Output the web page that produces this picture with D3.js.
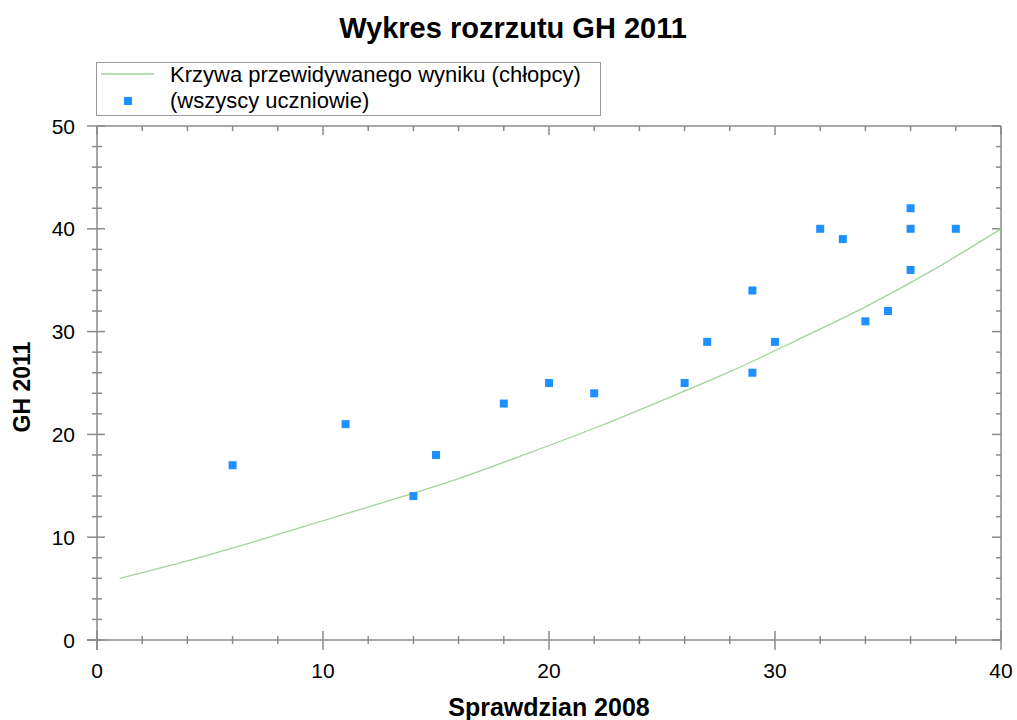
<!DOCTYPE html>
<html>
<head>
<meta charset="utf-8">
<script src="https://cdn.jsdelivr.net/npm/d3@7"></script>
<style>
  body { margin: 0; background: #fff; }
  svg text { font-family: "Liberation Sans", Arial, sans-serif; fill: #000; }
</style>
</head>
<body>
<div id="vis"></div>
<script>
// scores
var sprawdzian = [6, 11, 14, 15, 18, 20, 22, 26, 27, 29, 29, 30, 32, 33, 34, 35, 36, 36, 36, 38];
var gh2011     = [17, 21, 14, 18, 23, 25, 24, 25, 29, 34, 26, 29, 40, 39, 31, 32, 42, 40, 36, 40];

// predicted curve (boys)
var curveX = [1, 4, 7, 10, 13, 16, 19, 22, 25, 28, 31, 34, 37, 40];
var curveY = [6.0, 7.7, 9.6, 11.6, 13.6, 15.7, 18.1, 20.6, 23.3, 26.1, 29.2, 32.4, 36.0, 40.0];

var xTicks = [0, 10, 20, 30, 40];
var yTicks = [0, 10, 20, 30, 40, 50];

var width = 1017, height = 720;
var margin = {top: 126, right: 16, bottom: 80, left: 97};

var svg = d3.select('#vis').append('svg')
  .attr('width', width)
  .attr('height', height);

var x = d3.scaleLinear().domain([0, 40]).range([margin.left, width - margin.right]);
var y = d3.scaleLinear().domain([0, 50]).range([height - margin.bottom, margin.top]);

var axisColor = '#8a8a8a';
var minorX = d3.range(0, 41, 2), minorY = d3.range(0, 51, 2);

// frame: top and right lines with inward ticks
var frame = svg.append('g').attr('stroke', axisColor).attr('stroke-width', 1.5);
frame.append('line').attr('x1', x(0)).attr('x2', x(40)).attr('y1', y(50)).attr('y2', y(50));
frame.append('line').attr('x1', x(40)).attr('x2', x(40)).attr('y1', y(0)).attr('y2', y(50));
frame.selectAll('.tt').data(minorX).enter().append('line')
  .attr('x1', d => x(d)).attr('x2', d => x(d))
  .attr('y1', y(50)).attr('y2', d => y(50) + (d % 10 === 0 ? 9 : 5));
frame.selectAll('.rt').data(minorY).enter().append('line')
  .attr('y1', d => y(d)).attr('y2', d => y(d))
  .attr('x1', x(40)).attr('x2', d => x(40) - (d % 10 === 0 ? 9 : 5));

// bottom axis, ticks crossing the line
var gx = svg.append('g').attr('transform', 'translate(0,' + y(0) + ')');
gx.selectAll('.mt').data(minorX).enter().append('line')
  .attr('stroke', axisColor).attr('stroke-width', 1.5)
  .attr('x1', d => x(d)).attr('x2', d => x(d))
  .attr('y1', d => d % 10 === 0 ? -9 : -4).attr('y2', d => d % 10 === 0 ? 10 : 4);
gx.append('line').attr('stroke', axisColor).attr('stroke-width', 1.5)
  .attr('x1', x(0) - 10).attr('x2', x(40));
gx.selectAll('.lbl').data(xTicks).enter().append('text')
  .attr('x', d => x(d)).attr('y', 38)
  .attr('text-anchor', 'middle')
  .style('font-size', '21px')
  .text(d => d);

// left axis
var gy = svg.append('g').attr('transform', 'translate(' + x(0) + ',0)');
gy.selectAll('.mt').data(minorY).enter().append('line')
  .attr('stroke', axisColor).attr('stroke-width', 1.5)
  .attr('y1', d => y(d)).attr('y2', d => y(d))
  .attr('x1', d => d % 10 === 0 ? -10 : -5).attr('x2', d => d % 10 === 0 ? 8 : 5);
gy.append('line').attr('stroke', axisColor).attr('stroke-width', 1.5)
  .attr('y1', y(0) + 10).attr('y2', y(50));
gy.selectAll('.lbl').data(yTicks).enter().append('text')
  .attr('x', -22).attr('y', d => y(d))
  .attr('dy', '0.36em')
  .attr('text-anchor', 'end')
  .style('font-size', '21px')
  .text(d => d);

// predicted curve
var line = d3.line()
  .x(d => x(d[0]))
  .y(d => y(d[1]))
  .curve(d3.curveMonotoneX);

svg.append('path')
  .datum(d3.zip(curveX, curveY))
  .attr('fill', 'none')
  .attr('stroke', '#9fd49a')
  .attr('stroke-width', 1.3)
  .attr('d', line);

// students
var sq = 8;
svg.selectAll('.pt')
  .data(d3.zip(sprawdzian, gh2011))
  .enter().append('rect')
  .attr('x', d => x(d[0]) - sq / 2)
  .attr('y', d => y(d[1]) - sq / 2)
  .attr('width', sq).attr('height', sq)
  .attr('fill', '#1e90ff');

// title and axis titles
svg.append('text')
  .attr('x', 513).attr('y', 38)
  .attr('text-anchor', 'middle')
  .style('font-size', '29px').style('font-weight', 'bold')
  .text('Wykres rozrzutu GH 2011');

svg.append('text')
  .attr('x', 549).attr('y', 716)
  .attr('text-anchor', 'middle')
  .style('font-size', '25px').style('font-weight', 'bold')
  .text('Sprawdzian 2008');

svg.append('text')
  .attr('transform', 'translate(30,387) rotate(-90)')
  .attr('text-anchor', 'middle')
  .style('font-size', '23px').style('font-weight', 'bold')
  .text('GH 2011');

// legend
var lg = svg.append('g');
lg.append('rect')
  .attr('x', 96.5).attr('y', 62.5).attr('width', 504).attr('height', 53)
  .attr('fill', '#fff').attr('stroke', '#9a9a9a').attr('stroke-width', 1);
lg.append('line')
  .attr('x1', 101).attr('x2', 154).attr('y1', 74).attr('y2', 74)
  .attr('stroke', '#9fd49a').attr('stroke-width', 1.3);
lg.append('text')
  .attr('x', 170).attr('y', 82)
  .style('font-size', '22px')
  .text('Krzywa przewidywanego wyniku (chłopcy)');
lg.append('rect')
  .attr('x', 124).attr('y', 97).attr('width', sq).attr('height', sq)
  .attr('fill', '#1e90ff');
lg.append('text')
  .attr('x', 170).attr('y', 108)
  .style('font-size', '22px')
  .text('(wszyscy uczniowie)');
</script>
</body>
</html>
